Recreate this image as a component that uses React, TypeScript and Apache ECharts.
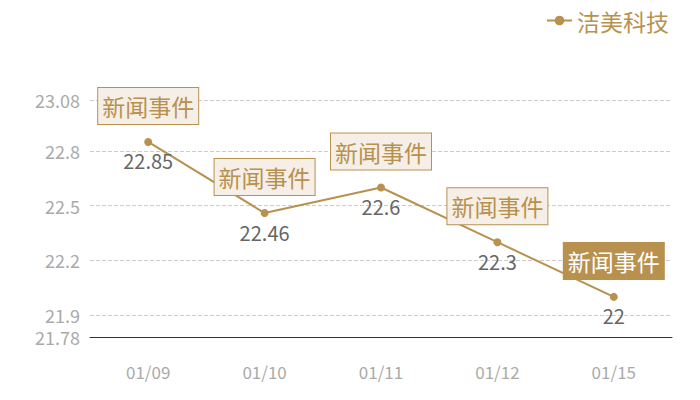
import React, { useEffect, useRef } from "react";
import * as echarts from "echarts";

const categories = ["01/09", "01/10", "01/11", "01/12", "01/15"];
const values = [22.85, 22.46, 22.6, 22.3, 22.0];
const yLabelValues = [21.78, 21.9, 22.2, 22.5, 22.8, 23.08];
const yGridValues = [21.9, 22.2, 22.5, 22.8, 23.08];
const seriesName = "洁美科技";
const eventLabel = "新闻事件";
const highlightedEvent = 4;

const GOLD = "#b8914f";

export default function App() {
  const ref = useRef<HTMLDivElement>(null);
  useEffect(() => {
    if (!ref.current) return;
    const chart = echarts.init(ref.current, undefined, { renderer: "svg" });
    const font = "'Noto Sans CJK SC', 'Noto Sans', sans-serif";
    chart.setOption({
      animation: false,
      textStyle: { fontFamily: font },
      legend: {
        right: 26,
        top: 4,
        itemWidth: 25,
        itemHeight: 12,
        itemGap: 6,
        textStyle: { color: GOLD, fontSize: 23, fontFamily: font },
        data: [seriesName],
      },
      grid: { left: 90, right: 28, top: 100, bottom: 63 },
      xAxis: {
        type: "category",
        data: categories,
        axisLine: { lineStyle: { color: "#333" } },
        axisTick: { show: false },
        axisLabel: { color: "#aaa", fontSize: 17, margin: 26, fontFamily: font },
      },
      yAxis: {
        type: "value",
        min: 21.78,
        max: 23.08,
        axisLine: { show: false },
        axisTick: { show: false, customValues: yGridValues },
        axisLabel: {
          color: "#aaa",
          fontSize: 18,
          margin: 10,
          fontFamily: font,
          customValues: yLabelValues,
        },
        splitLine: { lineStyle: { color: "#ccc", type: "dashed" } },
      },
      series: [
        {
          name: seriesName,
          type: "line",
          data: values,
          symbol: "circle",
          symbolSize: 8,
          itemStyle: { color: GOLD },
          lineStyle: { color: GOLD, width: 2 },
          label: {
            show: true,
            position: "bottom",
            distance: 5,
            color: "#666",
            fontSize: 20,
            fontFamily: font,
          },
          markPoint: {
            symbol: "circle",
            symbolSize: 0,
            data: values.map((v, i) => ({
              coord: [categories[i], v],
              value: eventLabel,
              label: {
                show: true,
                formatter: eventLabel,
                position: "inside",
                offset: [0, -36],
                fontSize: 23,
                lineHeight: 30,
                fontFamily: font,
                color: i === highlightedEvent ? "#fff" : GOLD,
                backgroundColor: i === highlightedEvent ? GOLD : "#f5efe7",
                borderColor: GOLD,
                borderWidth: 1,
                padding: [3, 4, 3, 4],
              },
            })),
          },
        },
      ],
    });
    return () => chart.dispose();
  }, []);
  return <div ref={ref} style={{ width: 700, height: 400, marginLeft: -8, marginTop: -8 }} />;
}
